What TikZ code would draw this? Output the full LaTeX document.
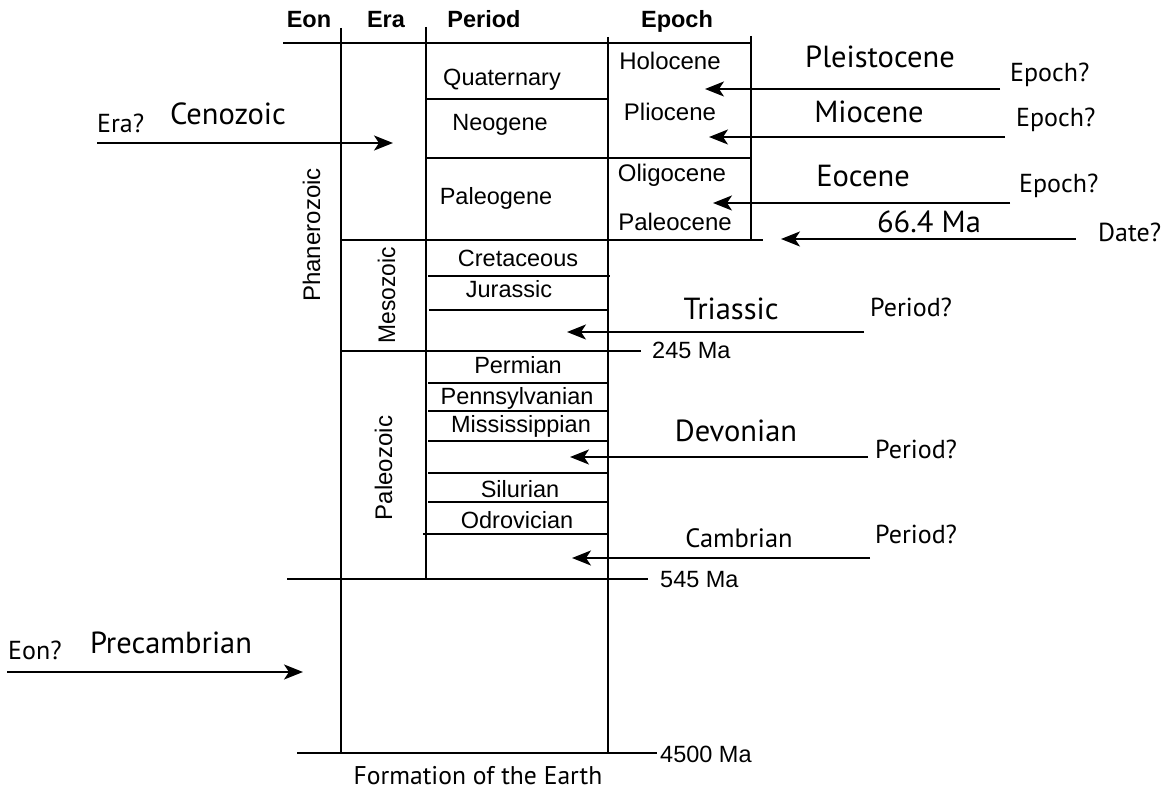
\documentclass[tikz,border=0pt]{standalone}
\usepackage{fontspec}
\setmainfont{Liberation Sans}
\newfontfamily\annfont{PT Sans}
\usetikzlibrary{arrows.meta}
\newcommand\hsq[2]{\scalebox{#1}[1]{#2}}
\begin{document}
\begin{tikzpicture}[x=1pt,y=-1pt,
  ln/.style={line width=1.8pt},
  arr/.style={line width=1.8pt,-{Stealth[length=19pt,width=15pt,inset=5pt]}},
  hdr/.style={inner sep=0pt,anchor=base,font=\fontsize{23.5}{27}\selectfont\bfseries},
  per/.style={inner sep=0pt,anchor=base,font=\fontsize{23.5}{27}\selectfont},
  epo/.style={inner sep=0pt,anchor=base,font=\fontsize{24}{28}\selectfont},
  age/.style={inner sep=0pt,anchor=base west,font=\fontsize{23.5}{27}\selectfont},
  rot/.style={inner sep=0pt,anchor=base,rotate=90,font=\fontsize{24}{28}\selectfont},
  big/.style={inner sep=0pt,anchor=base,font=\fontsize{30.5}{35}\annfont},
  mid/.style={inner sep=0pt,anchor=base,font=\fontsize{26.5}{30}\annfont},
  qst/.style={inner sep=0pt,anchor=base west,font=\fontsize{26}{30}\annfont}]
\useasboundingbox (0,0) rectangle (1165,791);
% ---- table lines ----
\draw[ln] (341,28) -- (341,753);
\draw[ln] (426,27) -- (426,579);
\draw[ln] (608,37) -- (608,753);
\draw[ln] (751,36) -- (751,240);
\draw[ln] (283,43) -- (751,43);
\draw[ln] (426,99) -- (608,99);
\draw[ln] (426,158) -- (751,158);
\draw[ln] (341,240) -- (763,240);
\draw[ln] (428,276) -- (610,276);
\draw[ln] (429,310) -- (608,310);
\draw[ln] (341,351) -- (641,351);
\draw[ln] (428,383) -- (608,383);
\draw[ln] (428,411) -- (608,411);
\draw[ln] (428,441) -- (608,441);
\draw[ln] (428,473) -- (608,473);
\draw[ln] (428,502) -- (608,502);
\draw[ln] (423,534) -- (608,534);
\draw[ln] (287,579) -- (648,579);
\draw[ln] (297,753) -- (657,753);
% ---- headers ----
\node[hdr] (hEon) at (309,28) {Eon};
\node[hdr] (hEra) at (386,28) {Era};
\node[hdr] (hPer) at (484,28) {Period};
\node[hdr] (hEpo) at (677,28) {Epoch};
% ---- periods ----
\node[per] (quat) at (502,86) {Quaternary};
\node[per] (neog) at (500,131) {Neogene};
\node[per] (paleog) at (496,205) {Paleogene};
\node[per] (cret) at (518,267) {Cretaceous};
\node[per] (jura) at (509,298) {Jurassic};
\node[per] (perm) at (518,374) {Permian};
\node[per] (penn) at (517,405) {Pennsylvanian};
\node[per] (miss) at (521,433) {Mississippian};
\node[per] (silu) at (520,497) {Silurian};
\node[per] (odro) at (517,528) {Odrovician};
% ---- epochs ----
\node[epo] (holo) at (670,70) {Holocene};
\node[epo] (plio) at (670,121) {Pliocene};
\node[epo] (olig) at (672,182) {Oligocene};
\node[epo] (paleoc) at (675,231) {Paleocene};
% ---- rotated eon/era ----
\node[rot] (phan) at (320,235) {Phanerozoic};
\node[rot] (meso) at (395,295) {\hsq{0.95}{Mesozoic}};
\node[rot] (paleoz) at (392,468) {Paleozoic};
% ---- ages ----
\node[age] (a245) at (652,359) {245 Ma};
\node[age] (a545) at (660,587) {545 Ma};
\node[age] (a4500) at (660,762) {4500 Ma};
\node[inner sep=0pt,anchor=base,font=\fontsize{25.6}{30}\annfont] (form) at (478,784) {Formation of the Earth};
% ---- annotations ----
\node[big] (ceno) at (228,125) {Cenozoic};
\node[qst] (qEra) at (97,133) {Era?};
\node[big] (prec) at (171,653) {Precambrian};
\node[qst] (qEon) at (8,659) {Eon?};
\node[big] (plei) at (880,68) {Pleistocene};
\node[qst] (qE1) at (1010,82) {Epoch?};
\node[big] (mioc) at (869,123) {Miocene};
\node[qst] (qE2) at (1016,127) {Epoch?};
\node[big] (eoce) at (863,187) {Eocene};
\node[qst] (qE3) at (1019,193) {Epoch?};
\node[big] (d664) at (929,233) {66.4 Ma};
\node[qst] (qD) at (1098,242) {Date?};
\node[big] (tria) at (731,320) {Triassic};
\node[qst] (qP1) at (870,317) {Period?};
\node[big] (devo) at (736,442) {Devonian};
\node[qst] (qP2) at (875,458) {Period?};
\node[mid] (camb) at (739,547) {Cambrian};
\node[qst] (qP3) at (875,543) {Period?};
% ---- arrow end points ----
\coordinate (cenoT) at (97,143);   \coordinate (cenoH) at (393,143);
\coordinate (precT) at (7,672);    \coordinate (precH) at (303,672);
\coordinate (pleiT) at (1000,89);  \coordinate (pleiH) at (705,89);
\coordinate (miocT) at (1005,137); \coordinate (miocH) at (709,137);
\coordinate (eoceT) at (1010,203); \coordinate (eoceH) at (713,203);
\coordinate (dateT) at (1076,239); \coordinate (dateH) at (781,239);
\coordinate (triaT) at (864,332);  \coordinate (triaH) at (567,332);
\coordinate (devoT) at (868,457);  \coordinate (devoH) at (570,457);
\coordinate (cambT) at (870,558);  \coordinate (cambH) at (572,558);
% ---- arrows ----
\draw[arr] (cenoT) -- (cenoH);
\draw[arr] (precT) -- (precH);
\draw[arr] (pleiT) -- (pleiH);
\draw[arr] (miocT) -- (miocH);
\draw[arr] (eoceT) -- (eoceH);
\draw[arr] (dateT) -- (dateH);
\draw[arr] (triaT) -- (triaH);
\draw[arr] (devoT) -- (devoH);
\draw[arr] (cambT) -- (cambH);
\end{tikzpicture}
\end{document}
